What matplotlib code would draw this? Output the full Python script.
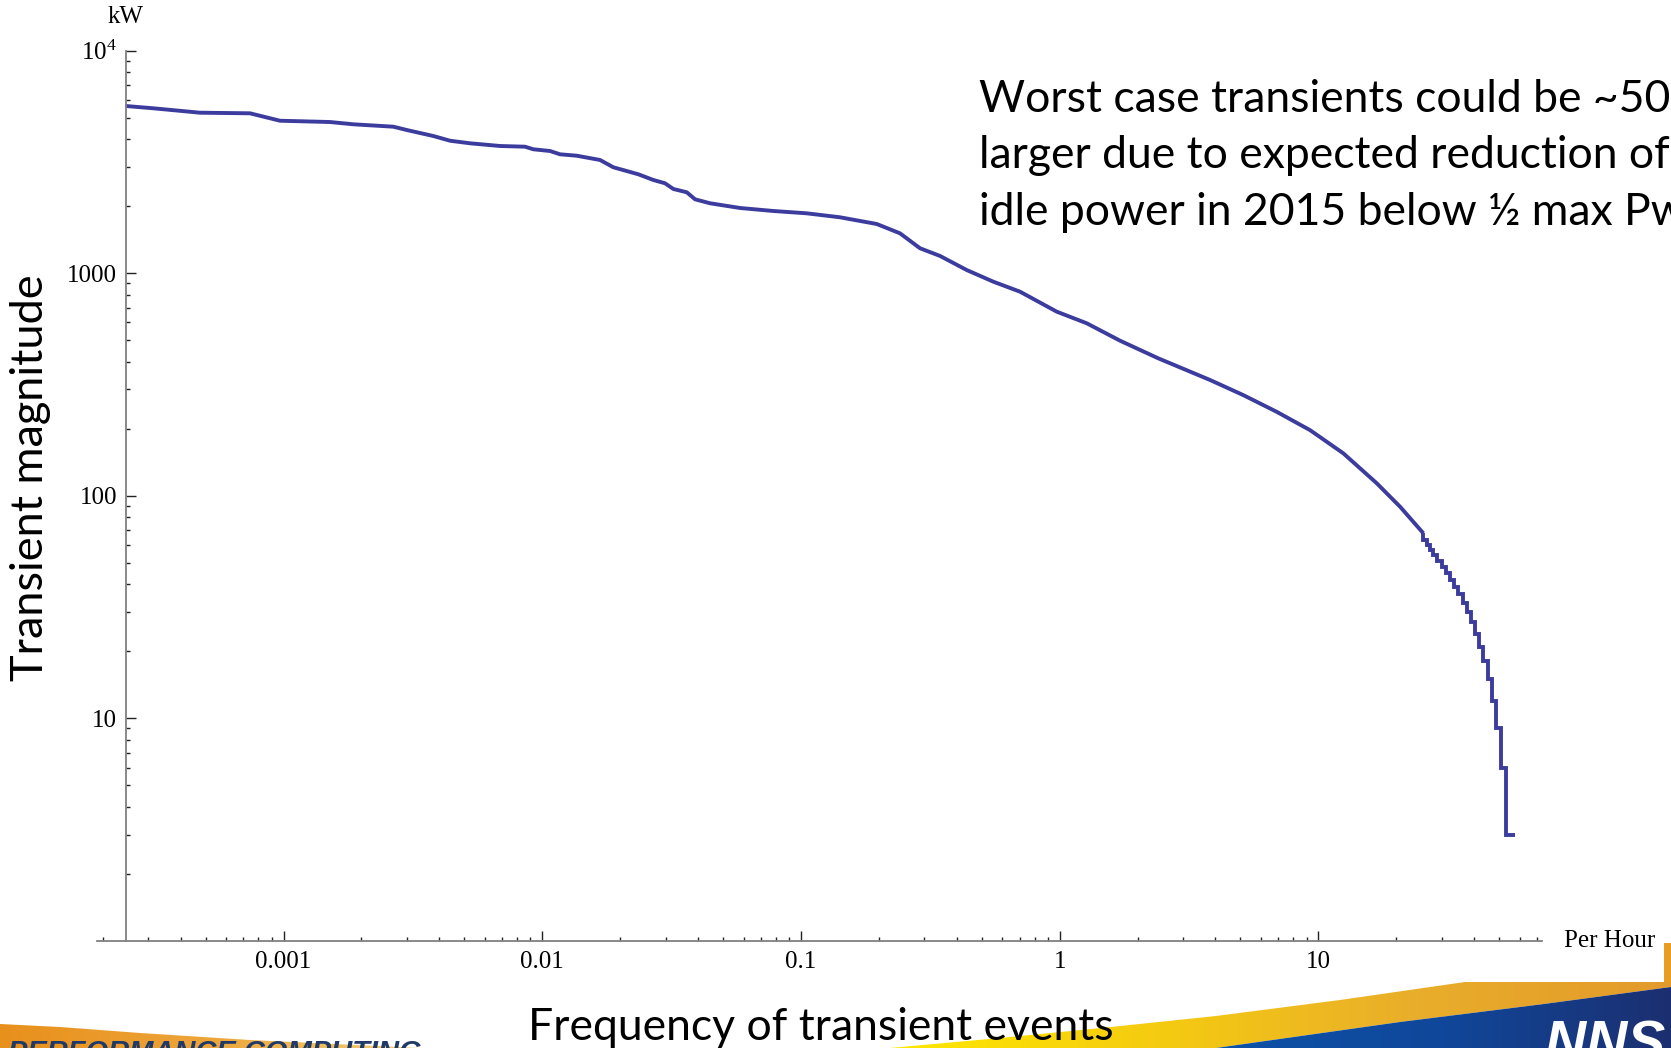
import matplotlib
matplotlib.use("Agg")
import matplotlib.pyplot as plt
import numpy as np
from matplotlib.patches import Polygon, Rectangle
from matplotlib.colors import LinearSegmentedColormap
from matplotlib.ticker import FixedLocator, LogLocator, NullFormatter

W, H = 1671, 1048

# smooth upper part of the curve: frequency (per hour) vs transient magnitude (kW)
freq_smooth = [2.45e-4, 3.14e-4, 4.75e-4, 7.42e-4, 9.69e-4, 1.513e-3, 1.861e-3, 2.657e-3, 2.994e-3,
               3.794e-3, 4.40e-3, 5.26e-3, 6.87e-3, 8.58e-3, 9.24e-3, 1.072e-2, 1.172e-2, 1.359e-2,
               1.673e-2, 1.883e-2, 2.352e-2, 2.689e-2, 2.983e-2, 3.212e-2, 3.620e-2, 3.898e-2,
               4.455e-2, 5.815e-2, 7.82e-2, 0.1053, 0.1416, 0.1963, 0.2415, 0.2886, 0.3449, 0.4375,
               0.5542, 0.7029, 0.9745, 1.273, 1.712, 2.407, 3.814, 5.13, 6.91, 9.29, 12.49, 16.82,
               20.70, 25.46]
kw_smooth = [5633, 5500, 5255, 5222, 4836, 4772, 4661, 4547, 4394,
             4129, 3933, 3829, 3724, 3697, 3599, 3536, 3417, 3368,
             3222, 2988, 2779, 2620, 2532, 2387, 2307, 2145,
             2059, 1961, 1901, 1856, 1781, 1662, 1509, 1293, 1194, 1032,
             915, 825, 671, 595, 497, 414, 331, 283, 238, 197, 155, 113.7,
             89.2, 67.8]

# stepped tail (3 kW levels)
freq_tail = [26.3, 27.0, 27.8, 28.8, 30.0, 31.2, 32.3, 33.5, 34.8, 36.2, 37.5, 38.8, 40.3,
             41.8, 43.4, 45.3, 46.8, 48.6, 50.8, 53.2, 57.6]
kw_tail = [63, 60, 57, 54, 51, 48, 45, 42, 39, 36, 33, 30, 27,
           24, 21, 18, 15, 12, 9, 6, 3]

x_ticks = [1e-3, 1e-2, 1e-1, 1, 10]
x_tick_labels = ['0.001', '0.01', '0.1', '1', '10']
y_ticks = [10, 100, 1000, 1e4]
y_tick_labels = ['10', '100', '1000', r'$\mathregular{10^4}$']

plt.rcParams['font.family'] = ['Liberation Serif', 'DejaVu Serif']
SANS = ['Lato', 'DejaVu Sans']
LINE = '#3c3c9e'
AXC = '#808080'

fig = plt.figure(figsize=(W / 100, H / 100), dpi=100)

# slide decoration at the bottom
bg = fig.add_axes([0, 0, 1, 1], zorder=-1)
bg.axis('off')


def gradient_fill(ax, verts, colors):
    poly = Polygon(verts, closed=True, facecolor='none', edgecolor='none')
    ax.add_patch(poly)
    xs = [v[0] for v in verts]
    ys = [v[1] for v in verts]
    cmap = LinearSegmentedColormap.from_list('g', colors)
    im = ax.imshow(np.linspace(0, 1, 256).reshape(1, -1), cmap=cmap, aspect='auto',
                   extent=[min(xs), max(xs), max(ys), min(ys)], interpolation='bicubic')
    im.set_clip_path(poly)


gradient_fill(bg, [(0, 1024), (60, 1027), (140, 1033), (250, 1040), (420, 1048), (0, 1048)],
              ['#e8901c', '#eda53a', '#f4d27a'])
gradient_fill(bg, [(890, 1048), (1000, 1038), (1111, 1027), (1216, 1016), (1340, 1000),
                   (1465, 982), (1671, 982), (1671, 987), (1544, 1004), (1400, 1022), (1216, 1048)],
              ['#ffe800', '#f5cc10', '#e9ae2a', '#e39a2a'])
gradient_fill(bg, [(1216, 1048), (1400, 1022), (1544, 1004), (1671, 987), (1671, 1048)],
              ['#0c52a8', '#10479a', '#1c2f70'])
bg.add_patch(Rectangle((1664, 943), 7, 39, facecolor='#e89d22', edgecolor='none'))
bg.set_xlim(0, W)
bg.set_ylim(H, 0)

fig.text(8 / W, 1 - 1061 / H, 'PERFORMANCE COMPUTING', family=['Liberation Sans', 'DejaVu Sans'],
         fontsize=21, fontweight='bold', fontstyle='italic', color='#1f3a68', va='baseline')
fig.text(1545 / W, 1 - 1062 / H, 'NNSA', family=['Liberation Sans', 'DejaVu Sans'],
         fontsize=41, fontweight='bold', fontstyle='italic', color='white', va='baseline')

# main chart
ax = fig.add_axes([97 / W, 1 - 940.9 / H, 1445 / W, 890.4 / H])
ax.patch.set_alpha(0)
ax.plot(freq_smooth, kw_smooth, color=LINE, lw=2.8, solid_capstyle='butt')
ax.plot([freq_smooth[-1]] + freq_tail, [kw_smooth[-1]] + kw_tail, color=LINE, lw=2.8,
        drawstyle='steps-pre', solid_joinstyle='miter', solid_capstyle='butt')

ax.set_xscale('log')
ax.set_yscale('log')
ax.set_xlim(1.901e-4, 73.2)
ax.set_ylim(1, 1e4)

for side in ('top', 'right'):
    ax.spines[side].set_visible(False)
ax.spines['left'].set_position(('data', 2.45e-4))
for side in ('left', 'bottom'):
    ax.spines[side].set_color(AXC)
    ax.spines[side].set_linewidth(1.3)

ax.xaxis.set_major_locator(FixedLocator(x_ticks))
ax.set_xticklabels(x_tick_labels)
ax.xaxis.set_minor_locator(LogLocator(base=10, subs=np.arange(2, 10)))
ax.xaxis.set_minor_formatter(NullFormatter())
ax.yaxis.set_major_locator(FixedLocator(y_ticks))
ax.set_yticklabels(y_tick_labels)
ax.yaxis.set_minor_locator(LogLocator(base=10, subs=np.arange(2, 10)))
ax.yaxis.set_minor_formatter(NullFormatter())

ax.tick_params(which='both', direction='in', color='#222222', width=1.0, labelsize=18)
ax.tick_params(which='major', length=7.5)
ax.tick_params(which='minor', length=3.2)
ax.tick_params(axis='x', pad=7)
ax.tick_params(axis='y', pad=6)

fig.text(125.5 / W, 1 - 17 / H, 'kW', ha='center', va='center', fontsize=18)
fig.text(1564 / W, 1 - 941 / H, 'Per Hour', ha='left', va='center', fontsize=18)

fig.text(31 / W, 1 - 478 / H, 'Transient magnitude', rotation=90, ha='center', va='center',
         family=SANS, fontsize=32.5)
fig.text(821 / W, 1 - 1040 / H, 'Frequency of transient events', ha='center', va='baseline',
         family=SANS, fontsize=32)

note = ['Worst case transients could be ~50%',
        'larger due to expected reduction of',
        'idle power in 2015 below \u00bd max Pwr']
for line, base in zip(note, [112, 168, 225]):
    fig.text(979 / W, 1 - base / H, line, ha='left', va='baseline', family=SANS, fontsize=32)

fig.savefig('out.png', dpi=100)
